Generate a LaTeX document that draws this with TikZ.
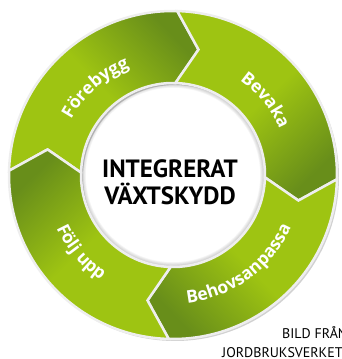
\documentclass[tikz,border=0pt]{standalone}
\usepackage{fontspec}
\setmainfont{PT Sans}
\newfontfamily\lblfam{Open Sans}
\usetikzlibrary{calc,decorations.text}

\definecolor{ljus}{RGB}{158,196,18}
\definecolor{mork}{RGB}{104,142,26}
\definecolor{spalt}{RGB}{238,238,238}

% one arrow piece of the ring, tail at angle #1, head 90 degrees further clockwise
\newcommand{\ringdel}[1]{%
  (#1:164) arc[start angle=#1, end angle=#1-90, radius=164]
  -- (#1-100:128) -- (#1-90:92)
  arc[start angle=#1-90, end angle=#1, radius=92]
  -- (#1-10:128) -- cycle}
\newcommand{\lblfont}{\color{white}\lblfam\bfseries\fontsize{17.5}{18}\selectfont}

\begin{document}
\begin{tikzpicture}[x=1pt,y=1pt,
    seg/.style={draw=spalt,line width=2.5pt,top color=mork,bottom color=ljus,middle color=ljus},
    skugga/.style={fill=black,opacity=0.18},
    lbl/.style={decorate,decoration={text along path,text align=center,text={|\lblfont|#1}}},
    kalla/.style={anchor=base west,font=\fontsize{14}{14}\selectfont,inner sep=0pt}
  ]
  \useasboundingbox (-173,-184) rectangle (169,175);

  % shadows
  \foreach \i in {1,...,6}
    \draw[black,opacity=0.04,line width=\i*1.6pt] (0,0) circle (92);
  \fill[skugga,shift={(2,-2)}] \ringdel{178.5};
  \fill[skugga,shift={(2,-2)}] \ringdel{88.5};
  \fill[skugga,shift={(2,-2)}] \ringdel{-1.5};
  \fill[skugga,shift={(2,-2)}] \ringdel{-91.5};

  % the four pieces
  \shadedraw[seg,shading angle=-46.5] \ringdel{178.5};
  \shadedraw[seg,shading angle=-136.5] \ringdel{88.5};
  \shadedraw[seg,shading angle=-226.5] \ringdel{-1.5};
  \shadedraw[seg,shading angle=-316.5] \ringdel{-91.5};

  % labels along the ring
  \path[lbl=Förebygg] (181.6:116) arc[start angle=181.6, end angle=81.6, radius=116];
  \path[lbl=Bevaka] (89:116) arc[start angle=89, end angle=-11, radius=116];
  \path[lbl=Behovsanpassa] (-103.7:129) arc[start angle=-103.7, end angle=-3.7, radius=129];
  \path[lbl=Följ upp] (-190:128) arc[start angle=-190, end angle=-90, radius=128];

  \node[font=\bfseries\fontsize{25}{27}\selectfont,align=center] (mitt) at (-3,-7)
    {INTEGRERAT\\VÄXTSKYDD};

  \node[kalla] (bild) at (109,-163) {BILD FRÅN};
  \node[kalla] (jbv) at (49,-182) {JORDBRUKSVERKET};
\end{tikzpicture}
\end{document}
